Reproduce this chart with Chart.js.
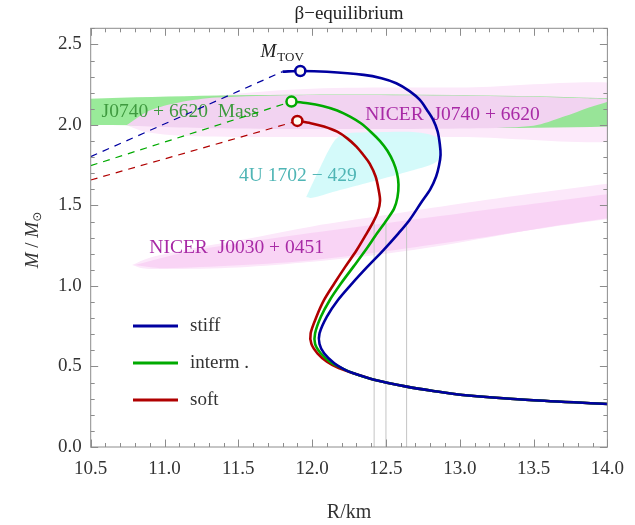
<!DOCTYPE html>
<html>
<head>
<meta charset="utf-8">
<script src="https://cdn.jsdelivr.net/npm/chart.js@4.4.1/dist/chart.umd.min.js"></script>
<style>
body { margin: 0; background: #fff; }
canvas { display: block; }
</style>
</head>
<body>
<canvas id="graficoMR" width="635" height="525"></canvas>
<script>
// curvas massa-raio (R em km, M em massas solares)
const stiffR = [11.80, 11.92, 12.10, 12.35, 12.47, 12.57, 12.66, 12.73, 12.78, 12.82, 12.85, 12.865, 12.87, 12.86, 12.84, 12.80, 12.74, 12.66, 12.585, 12.48, 12.375, 12.27, 12.175, 12.10, 12.05, 12.05, 12.081, 12.15, 12.22, 12.28, 12.42, 12.64, 12.82, 13.02, 13.47, 14.00];
const stiffM = [2.331, 2.335, 2.330, 2.311, 2.290, 2.259, 2.210, 2.155, 2.090, 2.031, 1.960, 1.880, 1.814, 1.750, 1.680, 1.600, 1.520, 1.410, 1.327, 1.220, 1.120, 1.015, 0.913, 0.810, 0.706, 0.640, 0.582, 0.520, 0.480, 0.458, 0.418, 0.375, 0.348, 0.323, 0.292, 0.267];
const intermR = [11.86, 11.97, 12.07, 12.17, 12.26, 12.33, 12.40, 12.46, 12.51, 12.55, 12.575, 12.585, 12.578, 12.555, 12.505, 12.44, 12.36, 12.28, 12.195, 12.12, 12.06, 12.02, 12.02, 12.058, 12.12, 12.20, 12.28, 12.42, 12.64, 12.82, 13.02, 13.47, 14.00];
const intermM = [2.145, 2.135, 2.118, 2.090, 2.050, 2.010, 1.955, 1.900, 1.840, 1.770, 1.700, 1.630, 1.550, 1.480, 1.410, 1.327, 1.220, 1.120, 1.015, 0.913, 0.810, 0.706, 0.640, 0.582, 0.530, 0.490, 0.458, 0.418, 0.375, 0.348, 0.323, 0.292, 0.267];
const softR = [11.90, 11.99, 12.08, 12.17, 12.24, 12.30, 12.35, 12.39, 12.43, 12.45, 12.46, 12.445, 12.415, 12.37, 12.30, 12.225, 12.15, 12.081, 12.03, 11.99, 11.995, 12.036, 12.10, 12.18, 12.28, 12.42, 12.64, 12.82, 13.02, 13.47, 14.00];
const softM = [2.025, 2.011, 1.990, 1.958, 1.915, 1.865, 1.810, 1.760, 1.680, 1.600, 1.530, 1.460, 1.400, 1.327, 1.220, 1.120, 1.015, 0.913, 0.810, 0.706, 0.640, 0.582, 0.530, 0.490, 0.458, 0.418, 0.375, 0.348, 0.323, 0.292, 0.267];

// ramos tracejados (esquerda ate o maximo)
const stiffDashR = [10.5, 11.80];
const stiffDashM = [1.803, 2.331];
const intermDashR = [10.5, 11.86];
const intermDashM = [1.747, 2.145];
const softDashR = [10.5, 11.90];
const softDashM = [1.658, 2.025];

// M_TOV
const tovR = [11.92, 11.86, 11.90];
const tovM = [2.335, 2.145, 2.025];

// R_1.4
const r14 = [12.42, 12.50, 12.64];
const m14 = [1.4, 1.4, 1.4];

// regioes observacionais (contornos)
const massaJ0740R = [10.3, 14.3, 14.3, 10.3, 10.3];
const massaJ0740M = [2.0, 2.0, 2.155, 2.155, 2.0];
const nicerJ0740ForaR = [10.74, 10.85, 11.0, 11.35, 12.0, 13.0, 14.3, 14.3, 13.0, 12.0, 11.2, 10.88, 10.74];
const nicerJ0740ForaM = [2.0, 2.06, 2.11, 2.18, 2.225, 2.232, 2.232, 1.925, 1.925, 1.925, 1.93, 1.955, 2.0];
const nicerJ0740DentroR = [10.745, 10.9, 11.1, 11.35, 11.9, 12.9, 13.5, 13.85, 14.02, 13.88, 13.7, 13.5, 13.0, 12.0, 11.3, 10.9, 10.745];
const nicerJ0740DentroM = [2.0, 2.09, 2.14, 2.17, 2.185, 2.183, 2.175, 2.165, 2.155, 2.11, 2.05, 1.995, 1.978, 1.975, 1.98, 1.99, 2.0];
const u1702R = [11.96, 12.056, 12.15, 12.22, 12.44, 12.70, 12.84, 12.875, 12.84, 12.64, 12.37, 12.14, 12.0, 11.96];
const u1702M = [1.553, 1.739, 1.900, 1.945, 1.955, 1.955, 1.925, 1.845, 1.77, 1.708, 1.64, 1.584, 1.547, 1.553];
const nicerJ0030ForaR = [10.78, 10.9, 11.2, 11.6, 12.0, 12.5, 13.0, 13.5, 14.0, 14.3, 14.3, 14.0, 13.5, 13.0, 12.5, 12.0, 11.5, 11.0, 10.85, 10.78];
const nicerJ0030ForaM = [1.13, 1.175, 1.235, 1.30, 1.37, 1.44, 1.51, 1.575, 1.635, 1.665, 1.44, 1.415, 1.35, 1.27, 1.20, 1.15, 1.115, 1.105, 1.11, 1.13];
const nicerJ0030DentroR = [10.80, 11.2, 12.0, 12.5, 13.0, 13.5, 14.0, 14.3, 14.3, 14.0, 13.0, 12.0, 11.0, 10.80];
const nicerJ0030DentroM = [1.13, 1.22, 1.33, 1.39, 1.45, 1.51, 1.57, 1.60, 1.44, 1.42, 1.28, 1.16, 1.11, 1.13];

const azul = '#0000a0';
const verde = '#00aa00';
const vermelho = '#b00000';
const fonte = '"Liberation Serif", "DejaVu Serif", serif';

function pontos(xs, ys) {
    return xs.map((x, i) => ({ x: x, y: ys[i] }));
}

function curva(label, xs, ys, cor) {
    return { label, data: pontos(xs, ys), showLine: true, borderColor: cor, borderWidth: 2.6,
             pointRadius: 0, tension: 0.3, fill: false, naLegenda: true };
}

function tracejada(xs, ys, cor) {
    return { label: 'dash', data: pontos(xs, ys), showLine: true, borderColor: cor, borderWidth: 1.2,
             borderDash: [7, 6], pointRadius: 0, fill: false };
}

function regiao(label, xs, ys, cor) {
    return { label, data: pontos(xs, ys), showLine: true, fill: 'shape', backgroundColor: cor,
             borderColor: 'transparent', borderWidth: 0, pointRadius: 0, tension: 0.3 };
}

function rotuloMeio(v) {
    const d = v * 2;
    return Math.abs(d - Math.round(d)) < 1e-6 ? v.toFixed(1) : '';
}

// textos sobre as regioes, em coordenadas dos dados
const anotacoes = [
    { texto: 'J0740 + 6620  Mass', r: 10.574, m: 2.08, cor: '#3f9a3f' },
    { texto: 'NICER  J0740 + 6620', r: 12.36, m: 2.06, cor: '#a82aa6' },
    { texto: '4U 1702 \u2212 429', r: 11.505, m: 1.683, cor: '#4fb5b5' },
    { texto: 'NICER  J0030 + 0451', r: 10.897, m: 1.234, cor: '#a82aa6' }
];

const textosPlugin = {
    id: 'textos',
    afterDatasetDraw(chart, args) {
        if (chart.data.datasets[args.index].label !== 'NICER J0740 1s') return;
        const ctx = chart.ctx;
        const x = chart.scales.x, y = chart.scales.y;
        ctx.save();
        ctx.font = '19.5px ' + fonte;
        ctx.textBaseline = 'middle';
        ctx.textAlign = 'left';
        anotacoes.forEach(a => {
            ctx.fillStyle = a.cor;
            ctx.fillText(a.texto, x.getPixelForValue(a.r), y.getPixelForValue(a.m));
        });
        // M_TOV
        const px = x.getPixelForValue(11.65), py = y.getPixelForValue(2.455);
        ctx.fillStyle = '#222';
        ctx.font = 'italic 19px ' + fonte;
        ctx.fillText('M', px, py);
        const w = ctx.measureText('M').width;
        ctx.font = '13px ' + fonte;
        ctx.fillText('TOV', px + w + 1, py + 6);
        ctx.restore();
    }
};

const legendaPlugin = {
    id: 'legendaInterna',
    afterDatasetsDraw(chart) {
        const ctx = chart.ctx;
        const itens = chart.data.datasets.filter(d => d.naLegenda);
        ctx.save();
        ctx.font = '19px ' + fonte;
        ctx.textBaseline = 'middle';
        itens.forEach((d, i) => {
            const yy = 326 + i * 37;
            ctx.strokeStyle = d.borderColor;
            ctx.lineWidth = 3.2;
            ctx.beginPath();
            ctx.moveTo(133, yy);
            ctx.lineTo(178, yy);
            ctx.stroke();
            ctx.fillStyle = '#333';
            ctx.fillText(d.label, 190, yy);
        });
        ctx.restore();
    }
};

const molduraPlugin = {
    id: 'moldura',
    afterDatasetsDraw(chart) {
        const ctx = chart.ctx;
        const a = chart.chartArea;
        const sx = chart.scales.x, sy = chart.scales.y;
        ctx.save();
        ctx.strokeStyle = '#8c8c8c';
        ctx.lineWidth = 1;
        ctx.strokeRect(a.left, a.top, a.right - a.left, a.bottom - a.top);
        ctx.beginPath();
        sx.ticks.forEach(t => {
            const p = Math.round(sx.getPixelForValue(t.value)) + 0.5;
            const len = rotuloMeio(t.value) ? 7.5 : 4;
            ctx.moveTo(p, a.bottom); ctx.lineTo(p, a.bottom - len);
            ctx.moveTo(p, a.top); ctx.lineTo(p, a.top + len);
        });
        sy.ticks.forEach(t => {
            const p = Math.round(sy.getPixelForValue(t.value)) + 0.5;
            const len = rotuloMeio(t.value) ? 7.5 : 4;
            ctx.moveTo(a.left, p); ctx.lineTo(a.left + len, p);
            ctx.moveTo(a.right, p); ctx.lineTo(a.right - len, p);
        });
        ctx.stroke();
        ctx.restore();
    },
    afterDraw(chart) {
        // titulo do eixo y: M / M_sol
        const ctx = chart.ctx;
        ctx.save();
        ctx.translate(33, 240);
        ctx.rotate(-Math.PI / 2);
        ctx.fillStyle = '#333';
        ctx.textBaseline = 'middle';
        const partes = [
            { t: 'M', f: 'italic 19px ' + fonte, dy: 0 },
            { t: ' / ', f: '19px ' + fonte, dy: 0 },
            { t: 'M', f: 'italic 19px ' + fonte, dy: 0 },
            { t: '\u2299', f: '12px "DejaVu Sans", sans-serif', dy: 5 }
        ];
        let total = 0;
        partes.forEach(p => { ctx.font = p.f; p.w = ctx.measureText(p.t).width; total += p.w; });
        let cx = -total / 2;
        ctx.textAlign = 'left';
        partes.forEach(p => { ctx.font = p.f; ctx.fillText(p.t, cx, p.dy); cx += p.w; });
        ctx.restore();
    }
};

const conjuntos = [
    { label: 'tov', data: pontos(tovR, tovM), showLine: false, pointRadius: 5, pointBorderWidth: 2.5,
      pointBackgroundColor: '#fffdf0', pointBorderColor: [azul, verde, vermelho] },
    curva('stiff', stiffR, stiffM, azul),
    curva('interm .', intermR, intermM, verde),
    curva('soft', softR, softM, vermelho),
    tracejada(stiffDashR, stiffDashM, azul),
    tracejada(intermDashR, intermDashM, verde),
    tracejada(softDashR, softDashM, vermelho)
];
r14.forEach((r, i) => {
    conjuntos.push({ label: 'R14', data: pontos([r, r], [0, m14[i]]), showLine: true,
                     borderColor: '#c4c4c4', borderWidth: 1, pointRadius: 0, fill: false });
});
conjuntos.push(
    regiao('NICER J0740 1s', nicerJ0740DentroR, nicerJ0740DentroM, 'rgb(242,211,241)'),
    regiao('J0740 mass', massaJ0740R, massaJ0740M, 'rgba(110,225,110,0.7)'),
    regiao('4U 1702', u1702R, u1702M, 'rgba(210,250,250,0.95)'),
    regiao('NICER J0740 2s', nicerJ0740ForaR, nicerJ0740ForaM, 'rgb(252,233,250)'),
    regiao('NICER J0030 1s', nicerJ0030DentroR, nicerJ0030DentroM, 'rgb(249,212,245)'),
    regiao('NICER J0030 2s', nicerJ0030ForaR, nicerJ0030ForaM, 'rgb(252,232,250)')
);

const ctx = document.getElementById('graficoMR').getContext('2d');
const grafico = new Chart(ctx, {
    type: 'scatter',
    data: { datasets: conjuntos },
    options: {
        responsive: false,
        animation: false,
        layout: { padding: { left: 0, right: 21.7, top: 0, bottom: 0 } },
        plugins: {
            legend: { display: false },
            tooltip: { enabled: false },
            title: {
                display: true,
                text: '\u03b2\u2212equilibrium',
                fullSize: false,
                color: '#222',
                font: { family: fonte, size: 19, weight: 'normal' },
                padding: { top: 3, bottom: 2.5 }
            }
        },
        scales: {
            x: {
                type: 'linear',
                min: 10.5,
                max: 14.0,
                grid: { display: false, drawTicks: false },
                border: { display: false },
                ticks: { stepSize: 0.1, autoSkip: false, maxRotation: 0, padding: 11,
                         color: '#333', font: { family: fonte, size: 19 }, callback: rotuloMeio },
                title: { display: true, text: 'R/km', color: '#333',
                         font: { family: fonte, size: 20 }, padding: { top: 0, bottom: 0 } },
                afterFit: s => { s.height = 78; }
            },
            y: {
                type: 'linear',
                min: 0,
                max: 2.6,
                grid: { display: false, drawTicks: false },
                border: { display: false },
                ticks: { stepSize: 0.1, autoSkip: false, padding: 9,
                         color: '#333', font: { family: fonte, size: 19 }, callback: rotuloMeio },
                afterFit: s => { s.width = 90.7; }
            }
        }
    },
    plugins: [textosPlugin, legendaPlugin, molduraPlugin]
});
</script>
</body>
</html>
